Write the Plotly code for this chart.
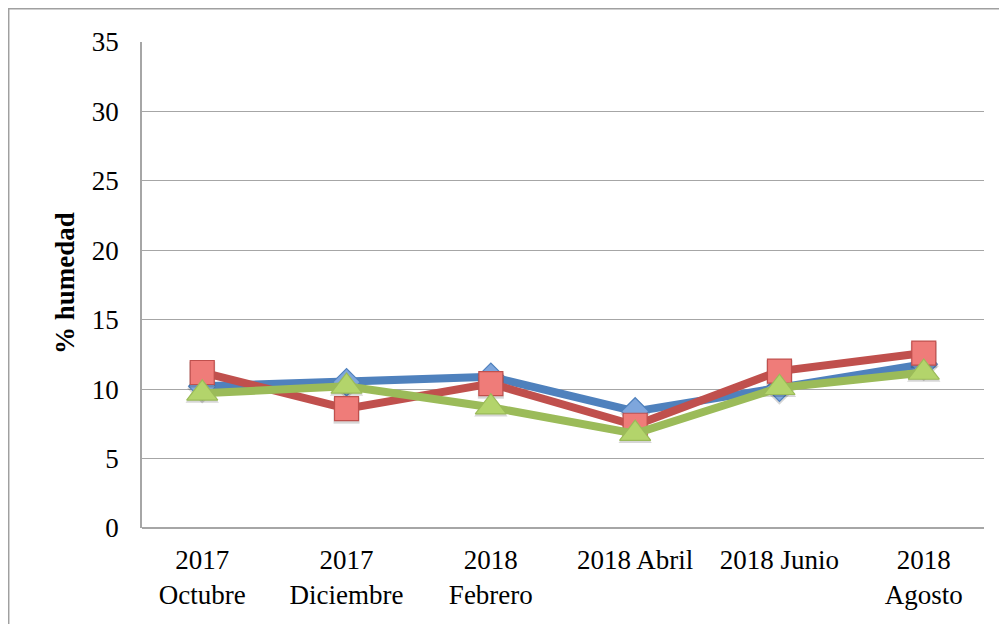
import plotly.graph_objects as go

categories = ["2017<br>Octubre", "2017<br>Diciembre", "2018<br>Febrero",
              "2018 Abril", "2018 Junio", "2018<br>Agosto"]
serie_azul = [10.2, 10.5, 10.9, 8.4, 10.1, 11.8]
serie_roja = [11.2, 8.6, 10.4, 7.4, 11.3, 12.6]
serie_verde = [9.7, 10.2, 8.7, 6.8, 10.1, 11.2]
y_ticks = [0, 5, 10, 15, 20, 25, 30, 35]

FONT = "Liberation Serif"
FS = 27

fig = go.Figure()

specs = [
    (serie_azul, "#4F81BD", "diamond", "#7EA6DC", 21),
    (serie_roja, "#C0504D", "square", "#EF7C79", 24),
    (serie_verde, "#9BBB59", "triangle-up", "#B3D46B", 27),
]
for vals, col, sym, fill, size in specs:
    fig.add_trace(go.Scatter(
        x=categories, y=[v - 0.15 for v in vals], mode="markers",
        marker=dict(symbol=sym, size=size + 2, color="rgba(0,0,0,0.16)",
                    line=dict(width=0)),
        hoverinfo="skip", showlegend=False))
    fig.add_trace(go.Scatter(
        x=categories, y=vals, mode="lines+markers",
        line=dict(color=col, width=8),
        marker=dict(symbol=sym, size=size, color=fill,
                    line=dict(color=col, width=1.2)),
        showlegend=False))

fig.update_layout(
    width=1007, height=624,
    margin=dict(l=134, r=31, t=34, b=104, autoexpand=False),
    paper_bgcolor="white", plot_bgcolor="white",
    font=dict(family=FONT, size=FS, color="black"),
    showlegend=False,
    shapes=[dict(type="rect", xref="paper", yref="paper",
                 x0=-0.1583, x1=1.08, y0=-0.3, y1=1.0684,
                 line=dict(color="#A0A0A0", width=1.5), layer="below")],
    annotations=[dict(text="<b>% humedad</b>", xref="paper", yref="paper",
                      x=-0.0915, y=0.504, xanchor="center", yanchor="middle",
                      textangle=-90, showarrow=False,
                      font=dict(family=FONT, size=FS))],
)
fig.update_xaxes(
    type="category", showgrid=False, showline=False, ticks="",
    tickfont=dict(family=FONT, size=FS), zeroline=False, automargin=False,
    ticklabelstandoff=13,
)
fig.update_yaxes(
    range=[0, 35], tickvals=y_ticks, showgrid=True, gridcolor="#A6A6A6",
    gridwidth=1.2, showline=True, linecolor="#A6A6A6", linewidth=1.5,
    zeroline=True, zerolinecolor="#A6A6A6", zerolinewidth=1.5,
    ticks="", automargin=False, ticklabelstandoff=16,
    tickfont=dict(family=FONT, size=FS),
)

fig.write_html("out.html")
